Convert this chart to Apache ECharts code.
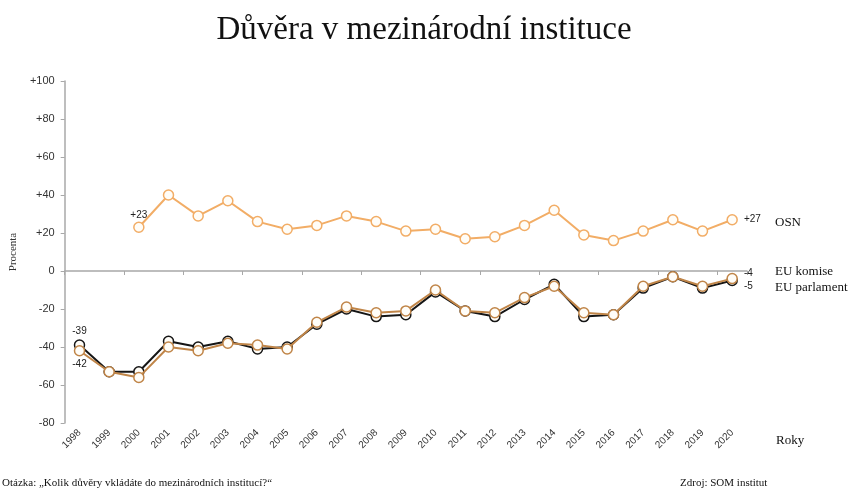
<!DOCTYPE html>
<html style="height: 100%">
<head>
    <meta charset="utf-8">
    <title>Důvěra v mezinárodní instituce</title>
    <script src="https://cdn.jsdelivr.net/npm/echarts@6/dist/echarts.min.js"></script>
</head>
<body style="height: 100%; margin: 0; background: #fff">
    <div id="container" style="width: 848px; height: 492px"></div>
    <script type="text/javascript">

        let years = ['1998', '1999', '2000', '2001', '2002', '2003', '2004', '2005', '2006', '2007', '2008',
            '2009', '2010', '2011', '2012', '2013', '2014', '2015', '2016', '2017', '2018', '2019', '2020'];
        let osn = [null, null, 23, 40, 29, 37, 26, 22, 24, 29, 26, 21, 22, 17, 18, 24, 32, 19, 16, 21, 27, 21, 27];
        let euKomise = [-39, -53, -53, -37, -40, -37, -41, -40, -28, -20, -24, -23, -11, -21, -24, -15, -7, -24, -23, -9, -3, -9, -5];
        let euParlament = [-42, -53, -56, -40, -42, -38, -39, -41, -27, -19, -22, -21, -10, -21, -22, -14, -8, -22, -23, -8, -3, -8, -4];
        let yTicks = [-80, -60, -40, -20, 0, 20, 40, 60, 80, 100];

        const serif = '"Liberation Serif", "DejaVu Serif", serif';
        const sans = '"Liberation Sans", Arial, sans-serif';

        function signed(v) {
            return v > 0 ? '+' + v : String(v);
        }

        // turn values into data items, showing a label only on chosen points
        function withLabels(values, labels) {
            return values.map((v, i) => {
                if (labels[i]) {
                    return { value: v, label: Object.assign({ show: true, formatter: p => signed(p.value), fontFamily: sans, fontSize: 10, color: '#222' }, labels[i]) };
                }
                return v;
            });
        }

        let last = years.length - 1;
        let osnLabels = {}; osnLabels[2] = { position: 'top', offset: [0, 4] }; osnLabels[last] = { position: 'right', distance: 6 };
        let komLabels = {}; komLabels[0] = { position: 'top', offset: [0, 2] }; komLabels[last] = { position: 'right', distance: 6, offset: [0, 6] };
        let parLabels = {}; parLabels[0] = { position: 'bottom', offset: [0, -2] }; parLabels[last] = { position: 'right', distance: 6, offset: [0, -5] };

        function lineSeries(name, values, color, labels, z) {
            return {
                name: name,
                type: 'line',
                xAxisIndex: 0,
                data: withLabels(values, labels),
                symbol: 'circle',
                symbolSize: 10,
                z: z,
                lineStyle: { color: color, width: 2 },
                itemStyle: { color: '#fffdf8', borderColor: color, borderWidth: 1.5 },
                emphasis: { disabled: true },
                animation: false
            };
        }

        let chart = echarts.init(document.getElementById('container'));
        chart.setOption({
            backgroundColor: '#fff',
            title: {
                text: 'Důvěra v mezinárodní instituce',
                left: 'center',
                top: 9,
                textStyle: { fontFamily: serif, fontSize: 33, fontWeight: 'normal', color: '#111' }
            },
            grid: { left: 62, right: 101, top: 81, bottom: 69 },
            xAxis: [
                {
                    // year labels along the bottom
                    type: 'category',
                    data: years,
                    position: 'bottom',
                    axisLine: { show: false, onZero: false },
                    axisTick: { show: false },
                    axisLabel: { rotate: 45, margin: 8, fontFamily: sans, fontSize: 10, color: '#333' }
                },
                {
                    // line through zero with ticks
                    type: 'category',
                    data: years,
                    axisLine: { onZero: true, lineStyle: { color: '#a8a8a8', width: 1.5 } },
                    axisTick: { show: true, inside: true, length: 4, lineStyle: { color: '#a8a8a8' } },
                    axisLabel: { show: false }
                }
            ],
            yAxis: {
                type: 'value',
                min: yTicks[0],
                max: yTicks[yTicks.length - 1],
                interval: 20,
                splitLine: { show: false },
                axisLine: { show: true, lineStyle: { color: '#a8a8a8', width: 1.5 } },
                axisTick: { show: true, length: 4, lineStyle: { color: '#a8a8a8' } },
                axisLabel: { formatter: signed, fontFamily: sans, fontSize: 11, color: '#333', margin: 10 },
                name: 'Procenta',
                nameLocation: 'middle',
                nameGap: 42,
                nameTextStyle: { fontFamily: serif, fontSize: 11, color: '#333' }
            },
            series: [
                lineSeries('OSN', osn, '#f2ad66', osnLabels, 3),
                lineSeries('EU komise', euKomise, '#151515', komLabels, 2),
                lineSeries('EU parlament', euParlament, '#c08548', parLabels, 4)
            ],
            graphic: [
                { type: 'text', left: 775, top: 216, style: { text: 'OSN', font: '13px ' + serif, fill: '#111' } },
                { type: 'text', left: 775, top: 265, style: { text: 'EU komise', font: '13px ' + serif, fill: '#111' } },
                { type: 'text', left: 775, top: 281, style: { text: 'EU parlament', font: '13px ' + serif, fill: '#111' } },
                { type: 'text', left: 776, top: 434, style: { text: 'Roky', font: '13px ' + serif, fill: '#111' } },
                { type: 'text', left: 2, top: 478, style: { text: 'Otázka: „Kolik důvěry vkládáte do mezinárodních institucí?“', font: '11px ' + serif, fill: '#111' } },
                { type: 'text', left: 680, top: 478, style: { text: 'Zdroj: SOM institut', font: '11px ' + serif, fill: '#111' } }
            ]
        });

    </script>
</body>
</html>
